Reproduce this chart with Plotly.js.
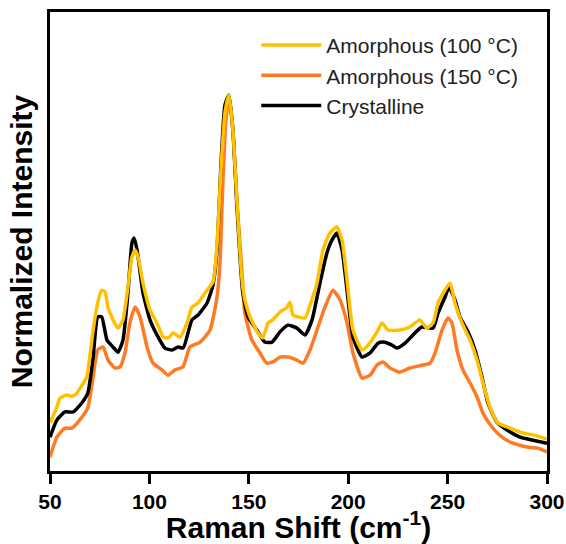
<!DOCTYPE html>
<html>
<head>
<meta charset="utf-8">
<script src="https://cdn.plot.ly/plotly-3.0.1.min.js"></script>
<style>html,body{margin:0;padding:0;background:#fff;}#chart{width:566px;height:544px;}</style>
</head>
<body>
<div id="chart"></div>
<script>
// Raman shift (cm^-1) and normalized intensity values
const xAm100 = [50,53.5,55,58.5,61,63.5,66.8,68.5,71.7,74,76,77.7,79.2,81.7,84.2,86.7,89.2,91.2,92.8,94.3,96.8,100.3,103.8,107,109.5,112,115.4,118.9,121.4,124.5,129,132,134,136,138,140,142,144,146,147,148,150.6,154.6,157,159.7,162,165.7,169,170.7,172.2,174.7,178.3,180.8,184.3,187.3,190.8,194.3,196.9,199.4,202.4,207,210,214.5,217,220,226,231,236,239.6,242.7,245.2,248.7,251.2,253.7,257.2,261.3,264.8,267.8,271.3,275.3,281.4,288,293,300];
const yAm100 = [0.128,0.170,0.194,0.202,0.199,0.207,0.234,0.250,0.375,0.447,0.481,0.476,0.434,0.402,0.380,0.402,0.489,0.569,0.588,0.569,0.500,0.428,0.394,0.356,0.354,0.367,0.356,0.394,0.436,0.447,0.481,0.503,0.601,0.801,0.952,1.0,0.907,0.721,0.548,0.489,0.455,0.410,0.367,0.354,0.394,0.402,0.423,0.434,0.449,0.415,0.410,0.407,0.441,0.500,0.588,0.633,0.649,0.614,0.508,0.375,0.322,0.335,0.370,0.394,0.375,0.375,0.383,0.402,0.380,0.394,0.447,0.481,0.500,0.447,0.394,0.348,0.295,0.234,0.170,0.128,0.114,0.101,0.096,0.085];

const xAm150 = [50,53.5,57.5,61,65,69,71.7,74,76.7,79.2,82.7,85.2,87.7,90.2,92.8,95.3,98.8,101.8,106.3,109.4,112.9,116.9,120.4,125.5,130.5,134,135.5,137,138.5,140,142,144,146.5,148,151.6,155.6,159,162,165.7,169.7,174.2,177.3,180.8,184.8,188.3,192.3,195.9,199.4,202.4,207,211,214.5,217.5,221,226,231,237.6,241.2,243.7,247.2,250.2,252.2,254.7,257.7,261.3,264.8,267.8,272.3,277.4,282.9,289.9,295,300];
const yAm150 = [0.037,0.090,0.114,0.114,0.136,0.168,0.250,0.322,0.330,0.295,0.274,0.277,0.314,0.394,0.436,0.410,0.330,0.287,0.269,0.255,0.269,0.277,0.330,0.343,0.375,0.463,0.553,0.774,0.934,0.997,0.907,0.721,0.535,0.420,0.348,0.314,0.287,0.290,0.303,0.303,0.295,0.287,0.322,0.383,0.436,0.481,0.455,0.394,0.314,0.247,0.255,0.282,0.290,0.274,0.263,0.274,0.282,0.287,0.314,0.375,0.407,0.394,0.322,0.269,0.234,0.197,0.154,0.117,0.090,0.074,0.064,0.061,0.051];

const xCryst = [50,53.5,57.5,61.6,66,69,71.7,74,76,78.7,81.7,84.2,86.7,89.2,91.2,92.3,93.8,96.8,100.3,103.8,107.8,111.4,114.4,117,121.4,124.5,129,132,134,136,138,140,142,144,146,147,149.6,154,158,161.7,165.7,169.7,174.2,178.3,181.8,185.8,189.3,191.8,194.3,196.9,199.4,202.4,207,211,215,217.5,222,224.5,228.6,232.6,237,242.7,245.2,248.7,250.7,253.7,256.2,260.3,263.8,267.3,270.3,274.8,279.9,286.4,293,300];
const yCryst = [0.090,0.136,0.157,0.157,0.181,0.207,0.303,0.410,0.410,0.348,0.330,0.316,0.348,0.473,0.606,0.620,0.588,0.473,0.402,0.362,0.327,0.322,0.330,0.327,0.402,0.415,0.447,0.495,0.588,0.814,0.973,1.0,0.907,0.707,0.535,0.473,0.410,0.375,0.343,0.343,0.370,0.388,0.380,0.362,0.402,0.500,0.580,0.614,0.633,0.588,0.481,0.356,0.303,0.314,0.340,0.343,0.335,0.327,0.340,0.362,0.383,0.380,0.420,0.463,0.489,0.455,0.410,0.370,0.322,0.250,0.181,0.130,0.109,0.090,0.082,0.074];

const seriesNames = ['Amorphous (100 °C)', 'Amorphous (150 °C)', 'Crystalline'];
const xTicks = [50, 100, 150, 200, 250, 300];

const FONT = 'Arial, "Liberation Sans", sans-serif';
const lineShape = {shape: 'spline', smoothing: 0.5, width: 3.5};

const traces = [
  {x: xAm150, y: yAm150, name: seriesNames[1], type: 'scatter', mode: 'lines',
   line: Object.assign({color: '#FF7A22'}, lineShape), legendrank: 2},
  {x: xCryst, y: yCryst, name: seriesNames[2], type: 'scatter', mode: 'lines',
   line: Object.assign({color: '#000000'}, lineShape), legendrank: 3},
  {x: xAm100, y: yAm100, name: seriesNames[0], type: 'scatter', mode: 'lines',
   line: Object.assign({color: '#FFC000'}, lineShape), legendrank: 1}
];

const layout = {
  width: 566, height: 544,
  margin: {l: 50, r: 19, t: 12, b: 73, pad: 0},
  paper_bgcolor: '#ffffff', plot_bgcolor: '#ffffff',
  font: {family: FONT, color: '#000'},
  showlegend: true,
  legend: {
    x: 0.415, y: 0.972, xanchor: 'left', yanchor: 'top',
    bgcolor: 'rgba(0,0,0,0)', borderwidth: 0,
    font: {family: FONT, size: 21, color: '#222'},
    itemwidth: 60, traceorder: 'normal', tracegroupgap: 0
  },
  xaxis: {
    range: [50, 300], tickvals: xTicks, ticktext: xTicks.map(String),
    ticks: 'outside', ticklen: 10, tickwidth: 3, tickcolor: '#000',
    showline: true, linewidth: 3, linecolor: '#000', mirror: true,
    showgrid: false, zeroline: false,
    tickfont: {family: FONT, size: 21, color: '#000', weight: 'bold'},
    title: {text: '<b>Raman Shift (cm<sup>-1</sup>)</b>', font: {family: FONT, size: 30, color: '#000'}, standoff: 3},
    automargin: false
  },
  yaxis: {
    range: [0, 1.221], showticklabels: false, ticks: '',
    showline: true, linewidth: 3, linecolor: '#000', mirror: true,
    showgrid: false, zeroline: false,
    title: {text: '<b>Normalized Intensity</b>', font: {family: FONT, size: 30, color: '#000'}, standoff: 6},
    automargin: false
  }
};

Plotly.newPlot('chart', traces, layout, {displayModeBar: false, staticPlot: true});
</script>
</body>
</html>
